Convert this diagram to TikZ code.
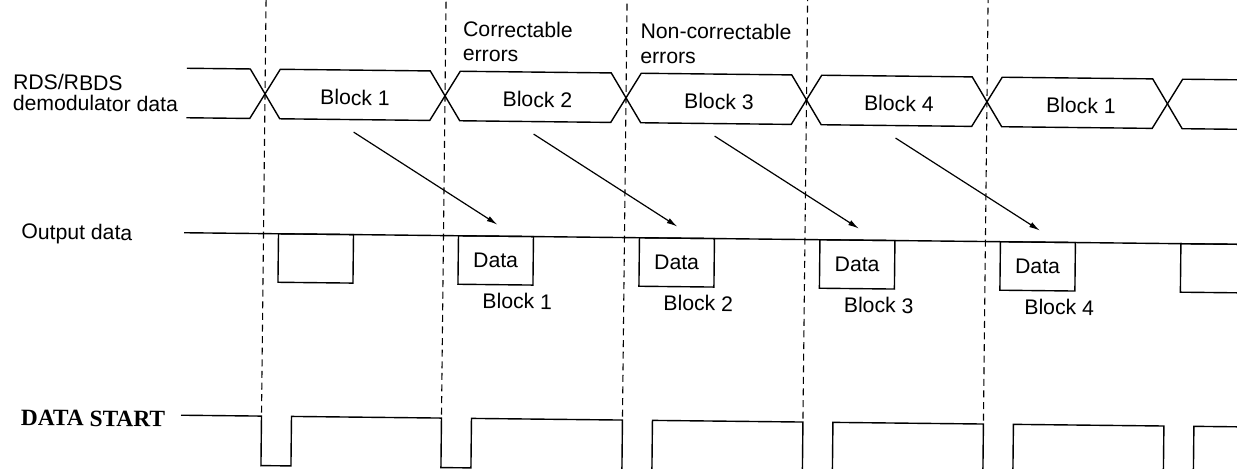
\documentclass[tikz,border=0pt]{standalone}
\usepackage{fontspec}
\setmainfont{Liberation Sans}
\newfontfamily\dsfont{Liberation Serif}
\usetikzlibrary{arrows.meta}
\begin{document}
\begin{tikzpicture}[x=0.5pt,y=-0.5pt,
  wave/.style={line width=0.7pt, line join=miter, line cap=butt},
  guide/.style={line width=0.55pt, dash pattern=on 3.5pt off 2.3pt},
  txt/.style={font=\fontsize{10.6}{12}\selectfont, inner sep=0pt, outer sep=0pt},
  dstxt/.style={font=\fontsize{11.7}{13}\dsfont\bfseries, inner sep=0pt, outer sep=0pt},
  databox/.style={draw, line width=0.7pt, minimum width=37.5pt, minimum height=24.25pt,
    inner sep=0pt, outer sep=0pt, anchor=north west, font=\fontsize{10.6}{12}\selectfont},
  arr/.style={line width=0.6pt, -{Latex[length=5.5pt,width=2.8pt]}}]
\useasboundingbox (0,0) rectangle (1237,468);
\fill[white] (0,0) rectangle (1237,468);
\begin{scope}[rotate around={-0.63:(618.5,234)}, transform shape]
  % dashed guide lines
  \foreach \c in {263.5,443.5,624.5,805,985.5}
    \draw[guide] (\c,-8) -- (\c,420);
  % RDS/RBDS demodulator data bus
  \draw[wave] (185,73) -- (248.5,73) -- (278.5,122.5) -- (428.5,122.5) -- (458.5,73)
    -- (609.5,73) -- (639.5,122.5) -- (790,122.5) -- (820,73) -- (970.5,73)
    -- (1000.5,122.5) -- (1151,122.5) -- (1181,73) -- (1250,73);
  \draw[wave] (185,122.5) -- (248.5,122.5) -- (278.5,73) -- (428.5,73) -- (458.5,122.5)
    -- (609.5,122.5) -- (639.5,73) -- (790,73) -- (820,122.5) -- (970.5,122.5)
    -- (1000.5,73) -- (1151,73) -- (1181,122.5) -- (1250,122.5);
  \node[txt, anchor=base west] (rds1) at (11.5,96) {RDS/RBDS};
  \node[txt, anchor=base west] (rds2) at (11.5,116.7) {demodulator data};
  \node[txt, anchor=base] (bb1) at (353.5,108) {Block 1};
  \node[txt, anchor=base] (bb2) at (536,108) {Block 2};
  \node[txt, anchor=base] (bb3) at (717.5,108) {Block 3};
  \node[txt, anchor=base] (bb4) at (897.5,108) {Block 4};
  \node[txt, anchor=base] (bb5) at (1079.5,108) {Block 1};
  \node[txt, anchor=base west] (ce1) at (461,38.4) {Correctable};
  \node[txt, anchor=base west] (ce2) at (461,62.7) {errors};
  \node[txt, anchor=base west] (ne1) at (638.5,38) {Non-correctable};
  \node[txt, anchor=base west] (ne2) at (638.5,63) {errors};
  % output data
  \node[txt, anchor=base west] (od) at (21.5,245.5) {Output data};
  \draw[wave] (184,237.5) -- (1250,237.5);
  \node[databox] (d0) at (278.5,237.5) {};
  \node[databox] (d1) at (458.5,237.5) {Data};
  \node[databox] (d2) at (639.5,237.5) {Data};
  \node[databox] (d3) at (820,237.5) {Data};
  \node[databox] (d4) at (1000.5,237.5) {Data};
  \node[databox] (d5) at (1181,237.5) {};
  \node[txt, anchor=base] (ob1) at (518,310) {Block 1};
  \node[txt, anchor=base] (ob2) at (699,310) {Block 2};
  \node[txt, anchor=base] (ob3) at (879.5,310) {Block 3};
  \node[txt, anchor=base] (ob4) at (1060,310) {Block 4};
  % arrows from bus blocks to output data
  \coordinate (s1) at (352.5,135);  \coordinate (e1) at (497.5,226);
  \coordinate (s2) at (532.5,135);  \coordinate (e2) at (677.5,226);
  \coordinate (s3) at (713.5,135);  \coordinate (e3) at (859,226);
  \coordinate (s4) at (894.5,135);  \coordinate (e4) at (1040,226);
  \draw[arr] (s1) -- (e1);
  \draw[arr] (s2) -- (e2);
  \draw[arr] (s3) -- (e3);
  \draw[arr] (s4) -- (e4);
  % DATA START
  \node[dstxt, anchor=base west] (ds) at (23,432) {DATA START};
  \draw[wave] (183,420) -- (263.5,420) -- (263.5,469.5) -- (293.5,469.5) -- (293.5,420)
    -- (443.5,420) -- (443.5,469.5) -- (473.5,469.5) -- (473.5,420)
    -- (624.5,420) -- (624.5,478) (654.5,478) -- (654.5,420)
    -- (805,420) -- (805,478) (835,478) -- (835,420)
    -- (985.5,420) -- (985.5,478) (1015.5,478) -- (1015.5,420)
    -- (1166,420) -- (1166,478) (1196,478) -- (1196,420) -- (1250,420);
\end{scope}
\end{tikzpicture}
\end{document}
